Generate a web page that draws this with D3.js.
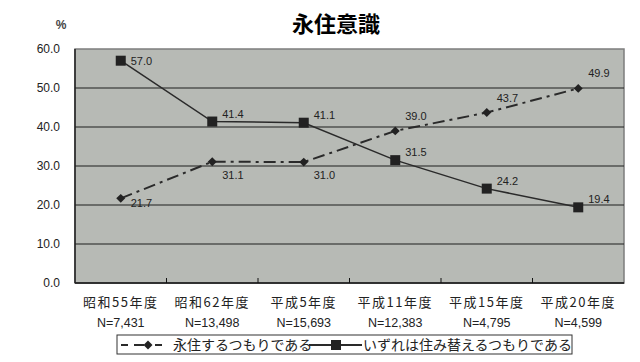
<!DOCTYPE html>
<html>
<head>
<meta charset="utf-8">
<script src="https://cdn.jsdelivr.net/npm/d3@7"></script>
<style>
  body { margin: 0; background: #fff; }
  text { font-family: "Noto Sans CJK JP", "Noto Sans", sans-serif; fill: #222; }
</style>
</head>
<body>
<div class="line-chart"></div>
<script>
const W = 640, H = 362;

// data
var years = ["昭和55年度", "昭和62年度", "平成5年度", "平成11年度", "平成15年度", "平成20年度"];
var sampleSizes = ["N=7,431", "N=13,498", "N=15,693", "N=12,383", "N=4,795", "N=4,599"];
var permanent = [21.7, 31.1, 31.0, 39.0, 43.7, 49.9];
var moveLater = [57.0, 41.4, 41.1, 31.5, 24.2, 19.4];
var seriesNames = ["永住するつもりである", "いずれは住み替えるつもりである"];
var yTicks = [0, 10, 20, 30, 40, 50, 60];

const M = {left: 75, right: 16, top: 49, bottom: 79};

var svg = d3.select('.line-chart')
    .append('svg')
    .attr('width', W)
    .attr('height', H);

var x = d3.scaleBand()
    .domain(years)
    .range([M.left, W - M.right]);

var y = d3.scaleLinear()
    .domain([0, 60])
    .range([H - M.bottom, M.top]);

function cx(i) { return x(years[i]) + x.bandwidth() / 2; }

// plot background
svg.append("rect")
    .attr("x", M.left).attr("y", M.top)
    .attr("width", W - M.left - M.right)
    .attr("height", H - M.top - M.bottom)
    .style("fill", "#b7bab5")
    .style("stroke", "#7d7d7d")
    .style("stroke-width", 1.5);

// gridlines
svg.selectAll(".grid").data(yTicks.filter(d => d > 0 && d < 60)).enter().append("line")
    .attr("x1", M.left).attr("x2", W - M.right)
    .attr("y1", d => y(d)).attr("y2", d => y(d))
    .style("stroke", "#1e1e1e")
    .style("stroke-width", 1.2);

// axes lines
svg.append("line")
    .attr("x1", M.left).attr("x2", W - M.right)
    .attr("y1", y(0)).attr("y2", y(0))
    .style("stroke", "#111").style("stroke-width", 1.5);
svg.append("line")
    .attr("x1", M.left).attr("x2", M.left)
    .attr("y1", y(0)).attr("y2", y(60))
    .style("stroke", "#222").style("stroke-width", 1.5);

// category boundary ticks
svg.selectAll(".xtick").data(years.slice(1)).enter().append("line")
    .attr("x1", d => x(d)).attr("x2", d => x(d))
    .attr("y1", y(0)).attr("y2", y(0) - 5)
    .style("stroke", "#111");

// y labels
svg.selectAll(".ylab").data(yTicks).enter().append("text")
    .attr("x", 60)
    .attr("y", d => y(d) + 4)
    .attr("text-anchor", "end")
    .style("font-family", "'Liberation Sans', Arial, sans-serif")
    .style("font-size", "12px")
    .text(d => d3.format(".1f")(d));

svg.append("text")
    .attr("x", 61).attr("y", 29)
    .attr("text-anchor", "middle")
    .style("font-family", "'Liberation Sans', Arial, sans-serif")
    .style("font-size", "12px")
    .style("font-weight", "bold")
    .style("fill", "#444")
    .text("%");

// title
svg.append("text")
    .attr("x", 336).attr("y", 32)
    .attr("text-anchor", "middle")
    .style("font-size", "22px")
    .style("font-weight", "bold")
    .style("fill", "#000")
    .text("永住意識");

// x labels
svg.selectAll(".xlab").data(years).enter().append("text")
    .attr("x", (d, i) => cx(i))
    .attr("y", 307)
    .attr("text-anchor", "middle")
    .style("font-size", "13px")
    .style("letter-spacing", "1.5px")
    .text(d => d);
svg.selectAll(".nlab").data(sampleSizes).enter().append("text")
    .attr("x", (d, i) => cx(i))
    .attr("y", 327)
    .attr("text-anchor", "middle")
    .style("font-family", "'Liberation Sans Narrow', 'Liberation Sans', sans-serif")
    .style("font-size", "12.5px")
    .text(d => d);

var line = d3.line()
    .x((d, i) => cx(i))
    .y(d => y(d));

// series lines
svg.append("path")
    .datum(permanent)
    .attr("d", line)
    .style("fill", "none")
    .style("stroke", "#2a2a2a")
    .style("stroke-width", 2)
    .style("stroke-dasharray", "12,5,3,5");
svg.append("path")
    .datum(moveLater)
    .attr("d", line)
    .style("fill", "none")
    .style("stroke", "#2a2a2a")
    .style("stroke-width", 1.5);

// markers - square turned 45deg reads more like the original diamond
var diamond = d3.symbol().type(d3.symbolSquare).size(40);
svg.selectAll(".dia").data(permanent).enter().append("path")
    .attr("d", diamond)
    .attr("transform", (d, i) => "translate(" + cx(i) + "," + y(d) + ") rotate(45)")
    .style("fill", "#222");
svg.selectAll(".sq").data(moveLater).enter().append("rect")
    .attr("x", (d, i) => cx(i) - 5)
    .attr("y", d => y(d) - 5)
    .attr("width", 10).attr("height", 10)
    .style("fill", "#222");

// value labels
svg.selectAll(".plab").data(permanent).enter().append("text")
    .attr("x", (d, i) => cx(i) + 10)
    .attr("y", (d, i) => i == 0 ? y(d) + 9 : (i < 3 ? y(d) + 17 : y(d) - 11))
    .style("font-family", "'Liberation Sans', Arial, sans-serif")
    .style("font-size", "11px")
    .text(d => d3.format(".1f")(d));
svg.selectAll(".mlab").data(moveLater).enter().append("text")
    .attr("x", (d, i) => cx(i) + 10)
    .attr("y", (d, i) => i == 0 ? y(d) + 4 : y(d) - 4)
    .style("font-family", "'Liberation Sans', Arial, sans-serif")
    .style("font-size", "11px")
    .text(d => d3.format(".1f")(d));

// legend
var lg = svg.append("g");
lg.append("rect")
    .attr("x", 117).attr("y", 335)
    .attr("width", 455).attr("height", 19)
    .style("fill", "#fff")
    .style("stroke", "#333");
lg.append("line")
    .attr("x1", 121).attr("x2", 165).attr("y1", 345).attr("y2", 345)
    .style("stroke", "#2a2a2a").style("stroke-width", 2)
    .style("stroke-dasharray", "7,6,10,4,3,4");
lg.append("path")
    .attr("d", diamond)
    .attr("transform", "translate(148,345) rotate(45)")
    .style("fill", "#222");
lg.append("text")
    .attr("x", 173).attr("y", 350)
    .style("font-size", "14px")
    .text(seriesNames[0]);
lg.append("line")
    .attr("x1", 309).attr("x2", 362).attr("y1", 345).attr("y2", 345)
    .style("stroke", "#2a2a2a").style("stroke-width", 2);
lg.append("rect")
    .attr("x", 331).attr("y", 340).attr("width", 10).attr("height", 10)
    .style("fill", "#222");
lg.append("text")
    .attr("x", 363).attr("y", 350)
    .style("font-size", "14px")
    .text(seriesNames[1]);
</script>
</body>
</html>
